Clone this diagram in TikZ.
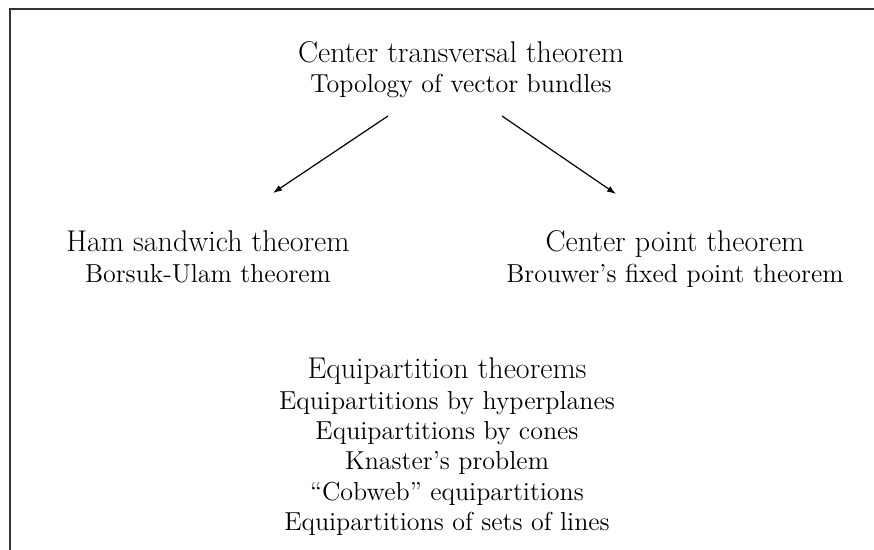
\documentclass[tikz,border=0pt]{standalone}
\usetikzlibrary{arrows.meta}
\begin{document}
\begin{tikzpicture}[x=0.5pt,y=-0.5pt,
  head/.style={anchor=base,inner sep=0pt,font=\fontsize{15}{18}\selectfont},
  sub/.style={anchor=base,inner sep=0pt,font=\fontsize{13}{15}\selectfont},
  link/.style={line width=0.6pt,-{Latex[length=4.5pt,width=3.2pt]}},
  frame/.style={line width=1.2pt,black!80}]
  \useasboundingbox (0,0) rectangle (874,550);
  % open frame along the top and left
  \draw[frame] (10,550) -- (10,9) -- (874,9);

  % top group
  \node[head] (ctt) at (461,63) {Center transversal theorem};
  \node[sub]  (tvb) at (461,93) {Topology of vector bundles};

  % middle groups
  \node[head] (ham) at (208,252) {Ham sandwich theorem};
  \node[sub]  (bu)  at (208,283) {Borsuk-Ulam theorem};
  \node[head] (cpt) at (675,252) {Center point theorem};
  \node[sub]  (bfp) at (675,283) {Brouwer’s fixed point theorem};

  % bottom group
  \node[head] (eq)  at (447,379) {Equipartition theorems};
  \node[sub]  (eq1) at (447,410) {Equipartitions by hyperplanes};
  \node[sub]  (eq2) at (447,440) {Equipartitions by cones};
  \node[sub]  (eq3) at (447,470) {Knaster’s problem};
  \node[sub]  (eq4) at (447,501) {“Cobweb” equipartitions};
  \node[sub]  (eq5) at (447,531) {Equipartitions of sets of lines};

  % arrows
  \coordinate (la) at (388,116);
  \coordinate (lb) at (273,193);
  \coordinate (ra) at (502,116);
  \coordinate (rb) at (616,194);
  \draw[link] (la) -- (lb);
  \draw[link] (ra) -- (rb);
\end{tikzpicture}
\end{document}
